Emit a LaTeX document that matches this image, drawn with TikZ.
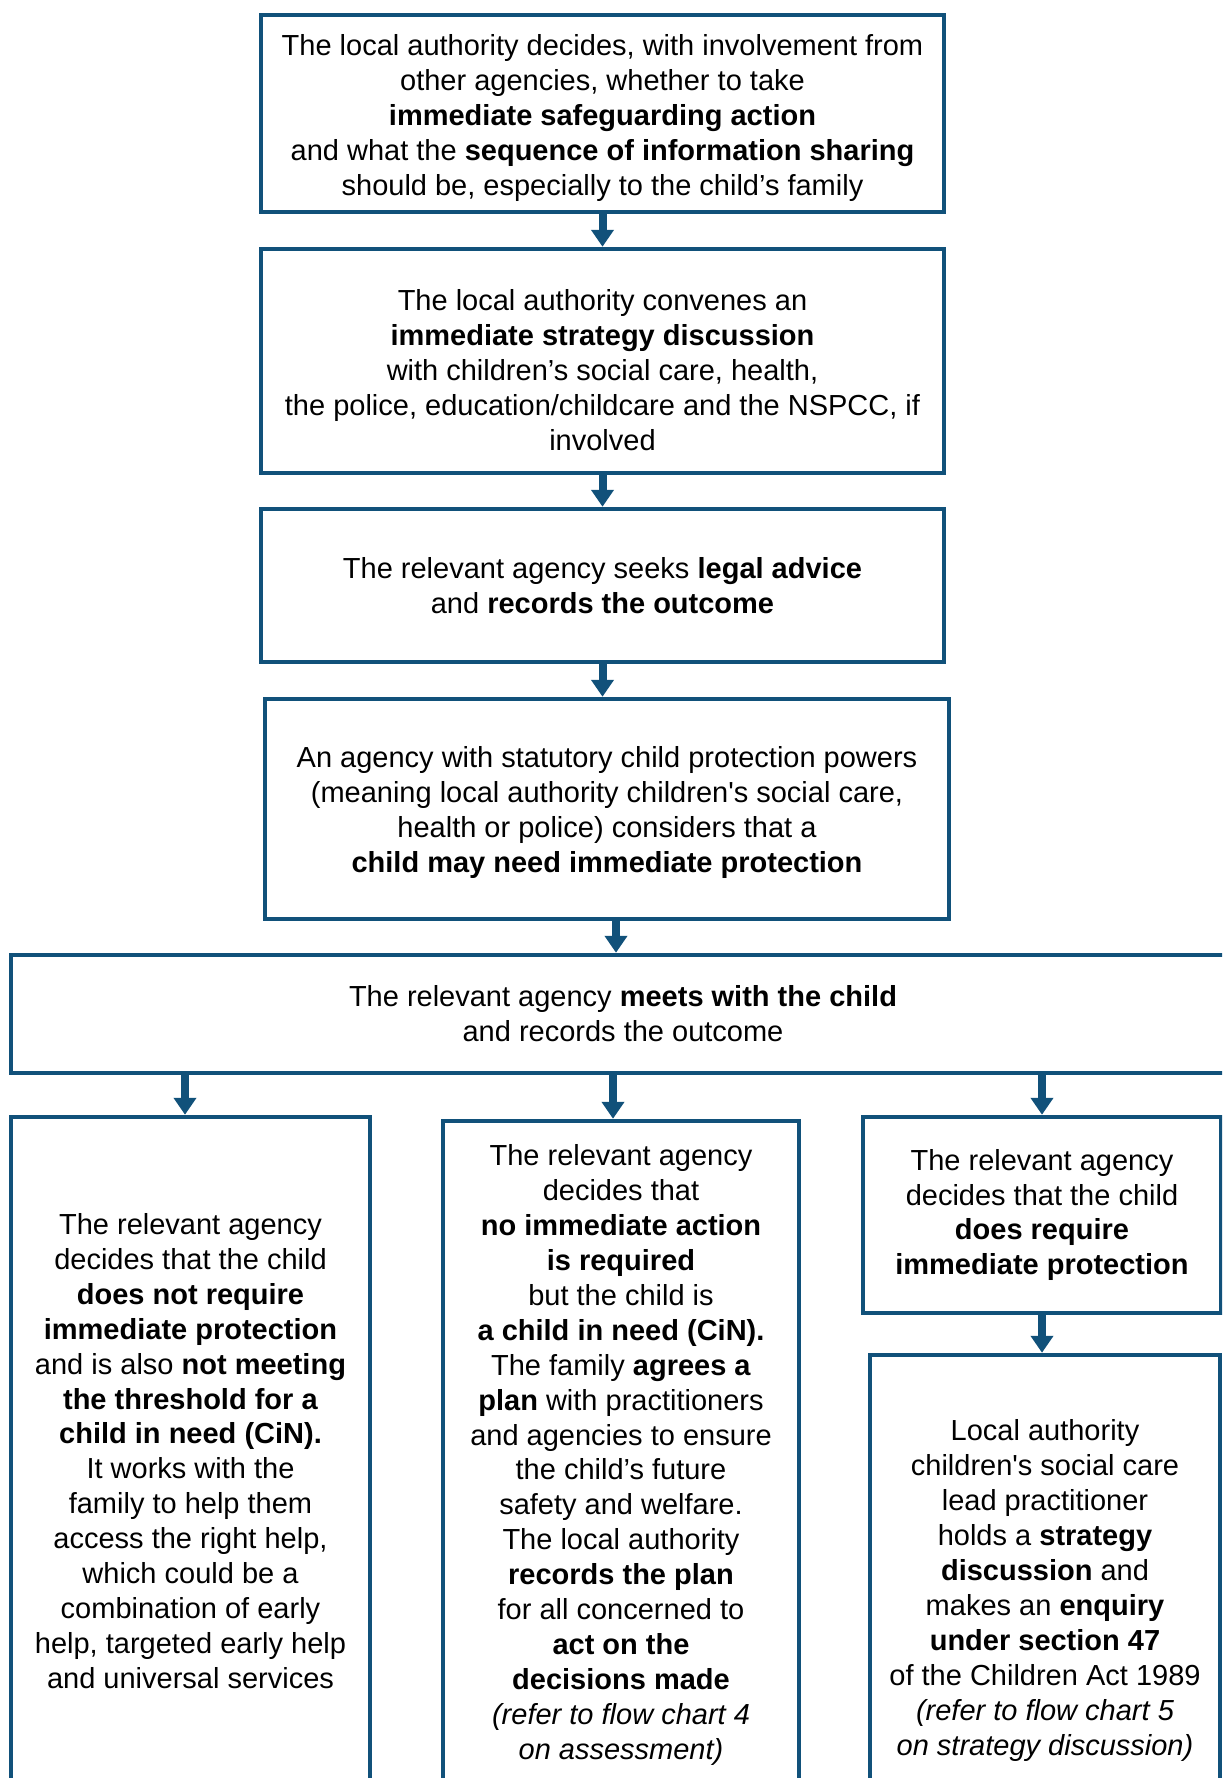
\documentclass[tikz,border=0pt]{standalone}
\usepackage{fontspec}
\setmainfont{Liberation Sans}
\usetikzlibrary{arrows.meta, positioning}
\definecolor{nblue}{RGB}{17,81,122}

\begin{document}
\begin{tikzpicture}[x=0.5pt,y=-0.5pt]
		\tikzstyle{box} = [draw=nblue, line width=2.25pt, inner sep=0pt, align=center, font=\fontsize{14.5}{17.45}\selectfont]
		\tikzstyle{arr} = [nblue, line width=4pt, -{Triangle[length=8.5pt,width=11pt]}]
		\useasboundingbox (0,0) rectangle (1222,1778); \clip (0,0) rectangle (1222,1778);
		\node[box, minimum width=341.5pt, minimum height=98.5pt] (act) at (602.5,113.5) {\rule{0pt}{15pt}The local authority decides, with involvement from\\ other agencies, whether to take\\ \textbf{immediate safeguarding action}\\ and what the \textbf{sequence of information sharing}\\ should be, especially to the child’s family};
		\node[box, minimum width=341.5pt, minimum height=112pt] (strat) at (602.5,361) {\rule{0pt}{19.5pt}The local authority convenes an\\ \textbf{immediate strategy discussion}\\ with children’s social care, health,\\ the police, education/childcare and the NSPCC, if\\ involved};
		\node[box, minimum width=341.5pt, minimum height=76.5pt] (legal) at (602.5,585.5) {The relevant agency seeks \textbf{legal advice}\\ and \textbf{records the outcome}};
		\node[box, minimum width=342pt, minimum height=110pt] (prot) at (607,809) {\rule{0pt}{14pt}An agency with statutory child protection powers\\ (meaning local authority children\textquotesingle s social care,\\ health or police) considers that a\\ \textbf{child may need immediate protection}};
		\node[box, minimum width=612pt, minimum height=59pt] (meet) at (623,1014) {The relevant agency \textbf{meets with the child}\\ and records the outcome};
		\node[box, minimum width=179.5pt, minimum height=334pt] (notreq) at (190.5,1451) {The relevant agency\\ decides that the child\\ \textbf{does not require}\\ \textbf{immediate protection}\\ and is also \textbf{not meeting}\\ \textbf{the threshold for a}\\ \textbf{child in need (CiN).}\\ It works with the\\ family to help them\\ access the right help,\\ which could be a\\ combination of early\\ help, targeted early help\\ and universal services};
		\node[box, minimum width=178pt, minimum height=334pt] (cin) at (621,1455) {The relevant agency\\ decides that\\ \textbf{no immediate action}\\ \textbf{is required}\\ but the child is\\ \textbf{a child in need (CiN).}\\ The family \textbf{agrees a}\\ \textbf{plan} with practitioners\\ and agencies to ensure\\ the child’s future\\ safety and welfare.\\ The local authority\\ \textbf{records the plan}\\ for all concerned to\\ \textbf{act on the}\\ \textbf{decisions made}\\ \textit{(refer to flow chart 4}\\ \textit{on assessment)}};
		\node[box, minimum width=179pt, minimum height=98pt] (req) at (1042,1215) {The relevant agency\\ decides that the child\\ \textbf{does require}\\ \textbf{immediate protection}};
		\node[box, minimum width=175pt, minimum height=233pt] (sec) at (1045,1588) {\rule{0pt}{13pt}Local authority\\ children\textquotesingle s social care\\ lead practitioner\\ holds a \textbf{strategy}\\ \textbf{discussion} and\\ makes an \textbf{enquiry}\\ \textbf{under section 47}\\ of the Children Act 1989\\ \textit{(refer to flow chart 5}\\ \textit{on strategy discussion)}};
		
		\draw[arr] (act.south) -- (strat.north);
		\draw[arr] (strat.south) -- (legal.north);
		\draw[arr] (legal.south) -- (legal.south |- prot.north);
		\draw[arr] ([xshift=4.5pt]prot.south) -- ([xshift=4.5pt]prot.south |- meet.north);
		\draw[arr] ([xshift=-2.75pt]notreq.north |- meet.south) -- ([xshift=-2.75pt]notreq.north);
		\draw[arr] ([xshift=-4pt]cin.north |- meet.south) -- ([xshift=-4pt]cin.north);
		\draw[arr] (req.north |- meet.south) -- (req.north);
		\draw[arr] (req.south) -- (req.south |- sec.north);
		\end{tikzpicture}
\end{document}
